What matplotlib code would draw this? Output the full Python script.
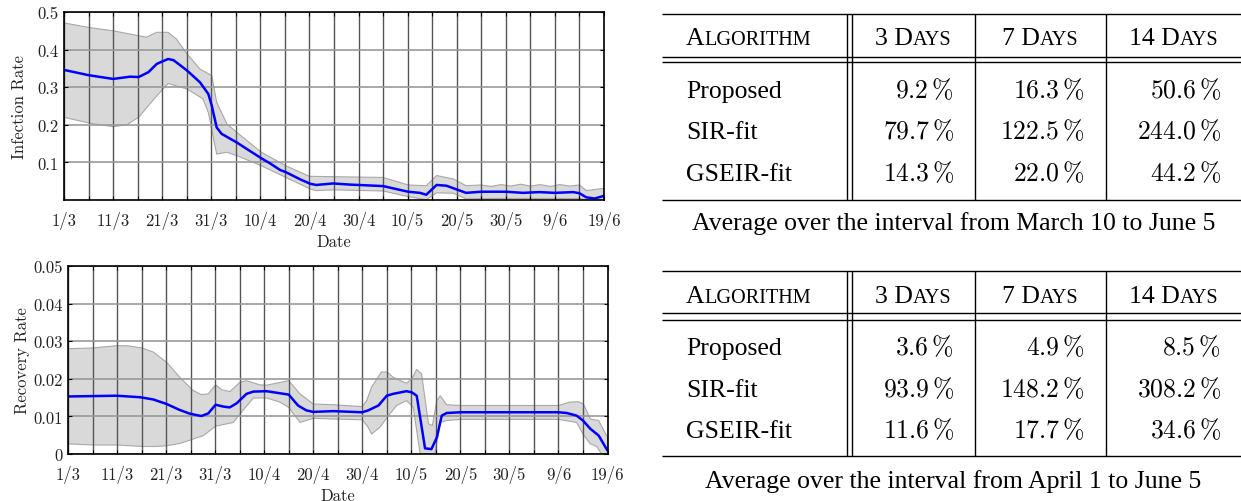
import numpy as np
import matplotlib
matplotlib.use("Agg")
import matplotlib.pyplot as plt

plt.rcParams['mathtext.fontset'] = 'cm'
plt.rcParams['axes.formatter.use_mathtext'] = True

# ---------------- data ----------------
tick_days = [0, 10, 20, 30, 40, 50, 60, 70, 80, 90, 100, 110]
tick_labels = ['1/3', '11/3', '21/3', '31/3', '10/4', '20/4', '30/4',
               '10/5', '20/5', '30/5', '9/6', '19/6']

inf_days = [0, 5, 10, 13.5, 15.2, 17.2, 18.9, 21.2, 22.3, 25.1, 27.7, 29.4, 30.1, 31.1,
            32.1, 35.2, 37.2, 40.2, 41.9, 44, 45.2, 48.1, 50.2, 51.4, 54.8, 58.2, 65,
            70.1, 72.5, 73.8, 75.9, 77.9, 81.9, 85, 90, 93.5, 96.8, 100, 103.7, 105,
            106.4, 108.1, 110]
inf_mean = [0.346, 0.332, 0.322, 0.328, 0.327, 0.340, 0.362, 0.375, 0.372, 0.344, 0.313,
            0.282, 0.251, 0.193, 0.176, 0.153, 0.136, 0.111, 0.098, 0.080, 0.074, 0.055,
            0.043, 0.040, 0.044, 0.041, 0.037, 0.022, 0.019, 0.014, 0.040, 0.038, 0.019,
            0.022, 0.022, 0.019, 0.021, 0.019, 0.021, 0.018, 0.007, 0.004, 0.011]

inf_up_days = [0, 5, 10, 15.2, 16.8, 18.9, 21.2, 22.9, 25.1, 27.7, 30.1, 31.1, 33.2, 35.2,
               40.2, 45.2, 48.1, 50, 54.8, 65, 70.1, 73.8, 75.9, 79.3, 81.9, 85, 87, 89,
               91, 93, 95, 97, 99, 101, 103, 105, 106.4, 110]
inf_up = [0.471, 0.459, 0.450, 0.437, 0.433, 0.446, 0.446, 0.428, 0.388, 0.348, 0.331,
          0.260, 0.202, 0.180, 0.127, 0.091, 0.074, 0.063, 0.062, 0.060, 0.040, 0.038,
          0.065, 0.056, 0.038, 0.040, 0.036, 0.041, 0.037, 0.042, 0.037, 0.041, 0.036,
          0.041, 0.037, 0.040, 0.025, 0.031]

inf_lo_days = [0, 5, 10, 12.8, 15.2, 18.9, 21.2, 25.1, 28.3, 29.4, 31.1, 33.2, 35.2, 40.2,
               45.2, 50.2, 51.4, 54.8, 65, 70.1, 73.8, 75.9, 79.3, 81.9, 85, 105, 106.4, 110]
inf_lo = [0.220, 0.205, 0.195, 0.200, 0.220, 0.277, 0.310, 0.295, 0.269, 0.233, 0.122,
          0.127, 0.118, 0.091, 0.060, 0.029, 0.025, 0.027, 0.024, 0.009, 0.001, 0.019,
          0.018, 0.003, 0.004, 0.004, 0.0, 0.0]

rec_days = [0, 9.9, 14.7, 17.4, 20.1, 22.8, 24.9, 27.2, 28.6, 30.1, 31.7, 33.0, 34.4, 36.4,
            37.8, 40.5, 42.5, 45, 46.9, 48.6, 50, 54.1, 60, 61.2, 63.3, 65, 66.3, 69, 70.1,
            71.1, 72.8, 74.1, 75.2, 76.2, 77.2, 80, 100, 101.7, 103.7, 105, 106.5, 108.2, 110]
rec_mean = [0.0153, 0.0155, 0.0151, 0.0145, 0.0133, 0.0117, 0.0107, 0.0101, 0.0108, 0.0131,
            0.0126, 0.0124, 0.0135, 0.0160, 0.0166, 0.0167, 0.0163, 0.0158, 0.0129, 0.0116,
            0.0112, 0.0114, 0.0111, 0.0116, 0.0129, 0.0155, 0.0160, 0.0167, 0.0164, 0.0155,
            0.0015, 0.0013, 0.0044, 0.0102, 0.0109, 0.0111, 0.0111, 0.0109, 0.0102, 0.0089,
            0.0067, 0.0049, 0.0009]

rec_up_days = [0, 5, 10, 12, 15.1, 17.4, 20.1, 22.8, 25.5, 27.2, 28.6, 30.1, 31.3, 33, 35.1,
               36.4, 39.1, 40.5, 45, 47.3, 50, 54.1, 60, 60.9, 61.9, 63.9, 65.1, 66.3, 69,
               70.1, 71.1, 72.1, 73.5, 74.3, 75.2, 75.9, 77.2, 80, 100, 102.3, 104.1, 105.1,
               106.5, 108.2, 110]
rec_up = [0.0280, 0.0282, 0.0288, 0.0288, 0.0282, 0.0271, 0.0244, 0.0204, 0.0169, 0.0158,
          0.0160, 0.0184, 0.0171, 0.0166, 0.0191, 0.0195, 0.0184, 0.0183, 0.0195, 0.0160,
          0.0133, 0.0131, 0.0126, 0.0142, 0.0178, 0.0218, 0.0218, 0.0204, 0.0188, 0.0200,
          0.0225, 0.0213, 0.0080, 0.0076, 0.0142, 0.0155, 0.0131, 0.0129, 0.0129, 0.0138,
          0.0139, 0.0133, 0.0093, 0.0089, 0.0044]

rec_lo_days = [0, 5, 10, 15.1, 18, 20.1, 22.8, 24.9, 27.6, 30.1, 32.3, 33.7, 35.1, 37.8,
               40.5, 43.2, 45, 47.3, 50, 54.1, 60, 61.2, 61.9, 63.6, 65.1, 67, 69, 70.4,
               71.8, 74.8, 75.9, 77.2, 80, 100, 103.7, 105, 106.5, 107.8, 108.8, 110]
rec_lo = [0.0027, 0.0024, 0.0024, 0.0020, 0.0020, 0.0022, 0.0028, 0.0037, 0.0049, 0.0074,
          0.0080, 0.0084, 0.0107, 0.0149, 0.0149, 0.0138, 0.0124, 0.0084, 0.0095, 0.0093,
          0.0091, 0.0071, 0.0053, 0.0071, 0.0098, 0.0129, 0.0142, 0.0124, 0.0, 0.0, 0.0084,
          0.0089, 0.0092, 0.0092, 0.0084, 0.0053, 0.0027, 0.0020, 0.0, 0.0]

inf_yticks = [0.1, 0.2, 0.3, 0.4, 0.5]
inf_yticklabels = ['0.1', '0.2', '0.3', '0.4', '0.5']
rec_yticks = [0, 0.01, 0.02, 0.03, 0.04, 0.05]
rec_yticklabels = ['0', '0.01', '0.02', '0.03', '0.04', '0.05']

table_algorithms = ['Proposed', 'SIR-fit', 'GSEIR-fit']
table_horizons = ['3', '7', '14']
table1_values = [[9.2, 16.3, 50.6], [79.7, 122.5, 244.0], [14.3, 22.0, 44.2]]
table2_values = [[3.6, 4.9, 8.5], [93.9, 148.2, 308.2], [11.6, 17.7, 34.6]]
table1_caption = 'Average over the interval from March 10 to June 5'
table2_caption = 'Average over the interval from April 1 to June 5'

# ---------------- figure ----------------
W, H = 1241, 502
fig = plt.figure(figsize=(W / 100, H / 100), dpi=100)

CM = 'cmr10'
TF = 'Liberation Serif'


def style_axis(ax, ylim, yticks, yticklabels, ylabel, ylabelpad):
    ax.set_xlim(0, 110)
    ax.set_ylim(*ylim)
    ax.set_xticks(tick_days)
    ax.set_xticklabels(tick_labels, fontfamily=CM, fontsize=12, color='#222222')
    ax.set_xticks(np.arange(0, 111, 5), minor=True)
    ax.set_yticks(yticks)
    ax.set_yticklabels(yticklabels, fontfamily=CM, fontsize=12, color='#222222')
    ax.tick_params(axis='both', which='both', direction='in', length=3, width=0.8,
                   top=True, right=True)
    ax.tick_params(axis='x', pad=8)
    ax.tick_params(axis='y', pad=4)
    ax.set_axisbelow(False)
    ax.grid(True, axis='x', which='both', color='#555555', lw=1.0)
    ax.grid(True, axis='y', which='major', color='#999999', lw=1.2)
    for s in ax.spines.values():
        s.set_linewidth(1.2)
        s.set_color('black')
        s.set_zorder(4)
    ax.set_xlabel('Date', fontfamily=CM, fontsize=12, labelpad=3, color='#222222')
    ax.set_ylabel(ylabel, fontfamily=CM, fontsize=12, labelpad=ylabelpad, color='#222222')


def draw_band(ax, ud, u, ld, lo, md, m):
    xs = list(ud) + list(ld)[::-1]
    ys = list(u) + list(lo)[::-1]
    ax.fill(xs, ys, facecolor='#d9d9d9', edgecolor='#a8a8a8', lw=0.8, zorder=1)
    ax.plot(md, m, color='#0000ff', lw=1.8, zorder=3, solid_capstyle='round')


ax1 = fig.add_axes([64 / W, 1 - 201 / H, 540 / W, 188 / H])
draw_band(ax1, inf_up_days, inf_up, inf_lo_days, inf_lo, inf_days, inf_mean)
style_axis(ax1, (0, 0.5), inf_yticks, inf_yticklabels, 'Infection Rate', 7)

ax2 = fig.add_axes([68 / W, 1 - 455 / H, 539.5 / W, 188 / H])
draw_band(ax2, rec_up_days, rec_up, rec_lo_days, rec_lo, rec_days, rec_mean)
style_axis(ax2, (0, 0.05), rec_yticks, rec_yticklabels, 'Recovery Rate', 2)

# ---------------- tables ----------------
tax = fig.add_axes([0, 0, 1, 1])
tax.set_xlim(0, W)
tax.set_ylim(H, 0)
tax.axis('off')
renderer = fig.canvas.get_renderer()

BIG = 18.5
SMALL = 14.6
LW = 1.0
x_left, x_right = 662, W
x_dbl = (846.5, 852)
x_sep = (975, 1106)
col_bounds = [(852, 975), (975, 1106), (1106, W)]
num_right = [954, 1084.5, 1221]
name_left = 686


def sc_text(x, y, parts, ha):
    texts = [tax.text(0, y, s, fontsize=sz, family=TF, va='baseline', ha='left')
             for s, sz in parts]
    widths = [t.get_window_extent(renderer).width for t in texts]
    start = x if ha == 'left' else x - sum(widths) / 2
    for t, w in zip(texts, widths):
        t.set_x(start)
        start += w


def draw_table(y_top, y_dbl, y_bot, base_head, base_rows, base_cap, values, caption):
    for y in [y_top, y_dbl[0], y_dbl[1], y_bot]:
        tax.plot([x_left, x_right], [y, y], color='black', lw=LW, solid_capstyle='butt')
    for x in list(x_dbl) + list(x_sep):
        tax.plot([x, x], [y_top, y_bot], color='black', lw=LW, solid_capstyle='butt')
    sc_text(name_left, base_head, [('A', BIG), ('LGORITHM', SMALL)], 'left')
    for (a, b), h in zip(col_bounds, table_horizons):
        sc_text((a + b) / 2, base_head, [(h + ' D', BIG), ('AYS', SMALL)], 'center')
    for name, row, yb in zip(table_algorithms, values, base_rows):
        tax.text(name_left, yb, name, fontsize=BIG, family=TF, va='baseline', ha='left')
        for v, xr in zip(row, num_right):
            tax.text(xr, yb, r'$%.1f\,\%%$' % v, fontsize=BIG, va='baseline', ha='right')
    tax.text((x_left + x_right) / 2 + 2, base_cap, caption, fontsize=BIG, family=TF,
             va='baseline', ha='center')


draw_table(14.7, (57.5, 63.3), 200.7, 45, [98, 139.5, 181.5], 230,
           table1_values, table1_caption)
draw_table(271.7, (314.3, 320.7), 456.5, 303.3, [355.5, 397, 438.5], 488,
           table2_values, table2_caption)

fig.savefig('out.png', dpi=100)
